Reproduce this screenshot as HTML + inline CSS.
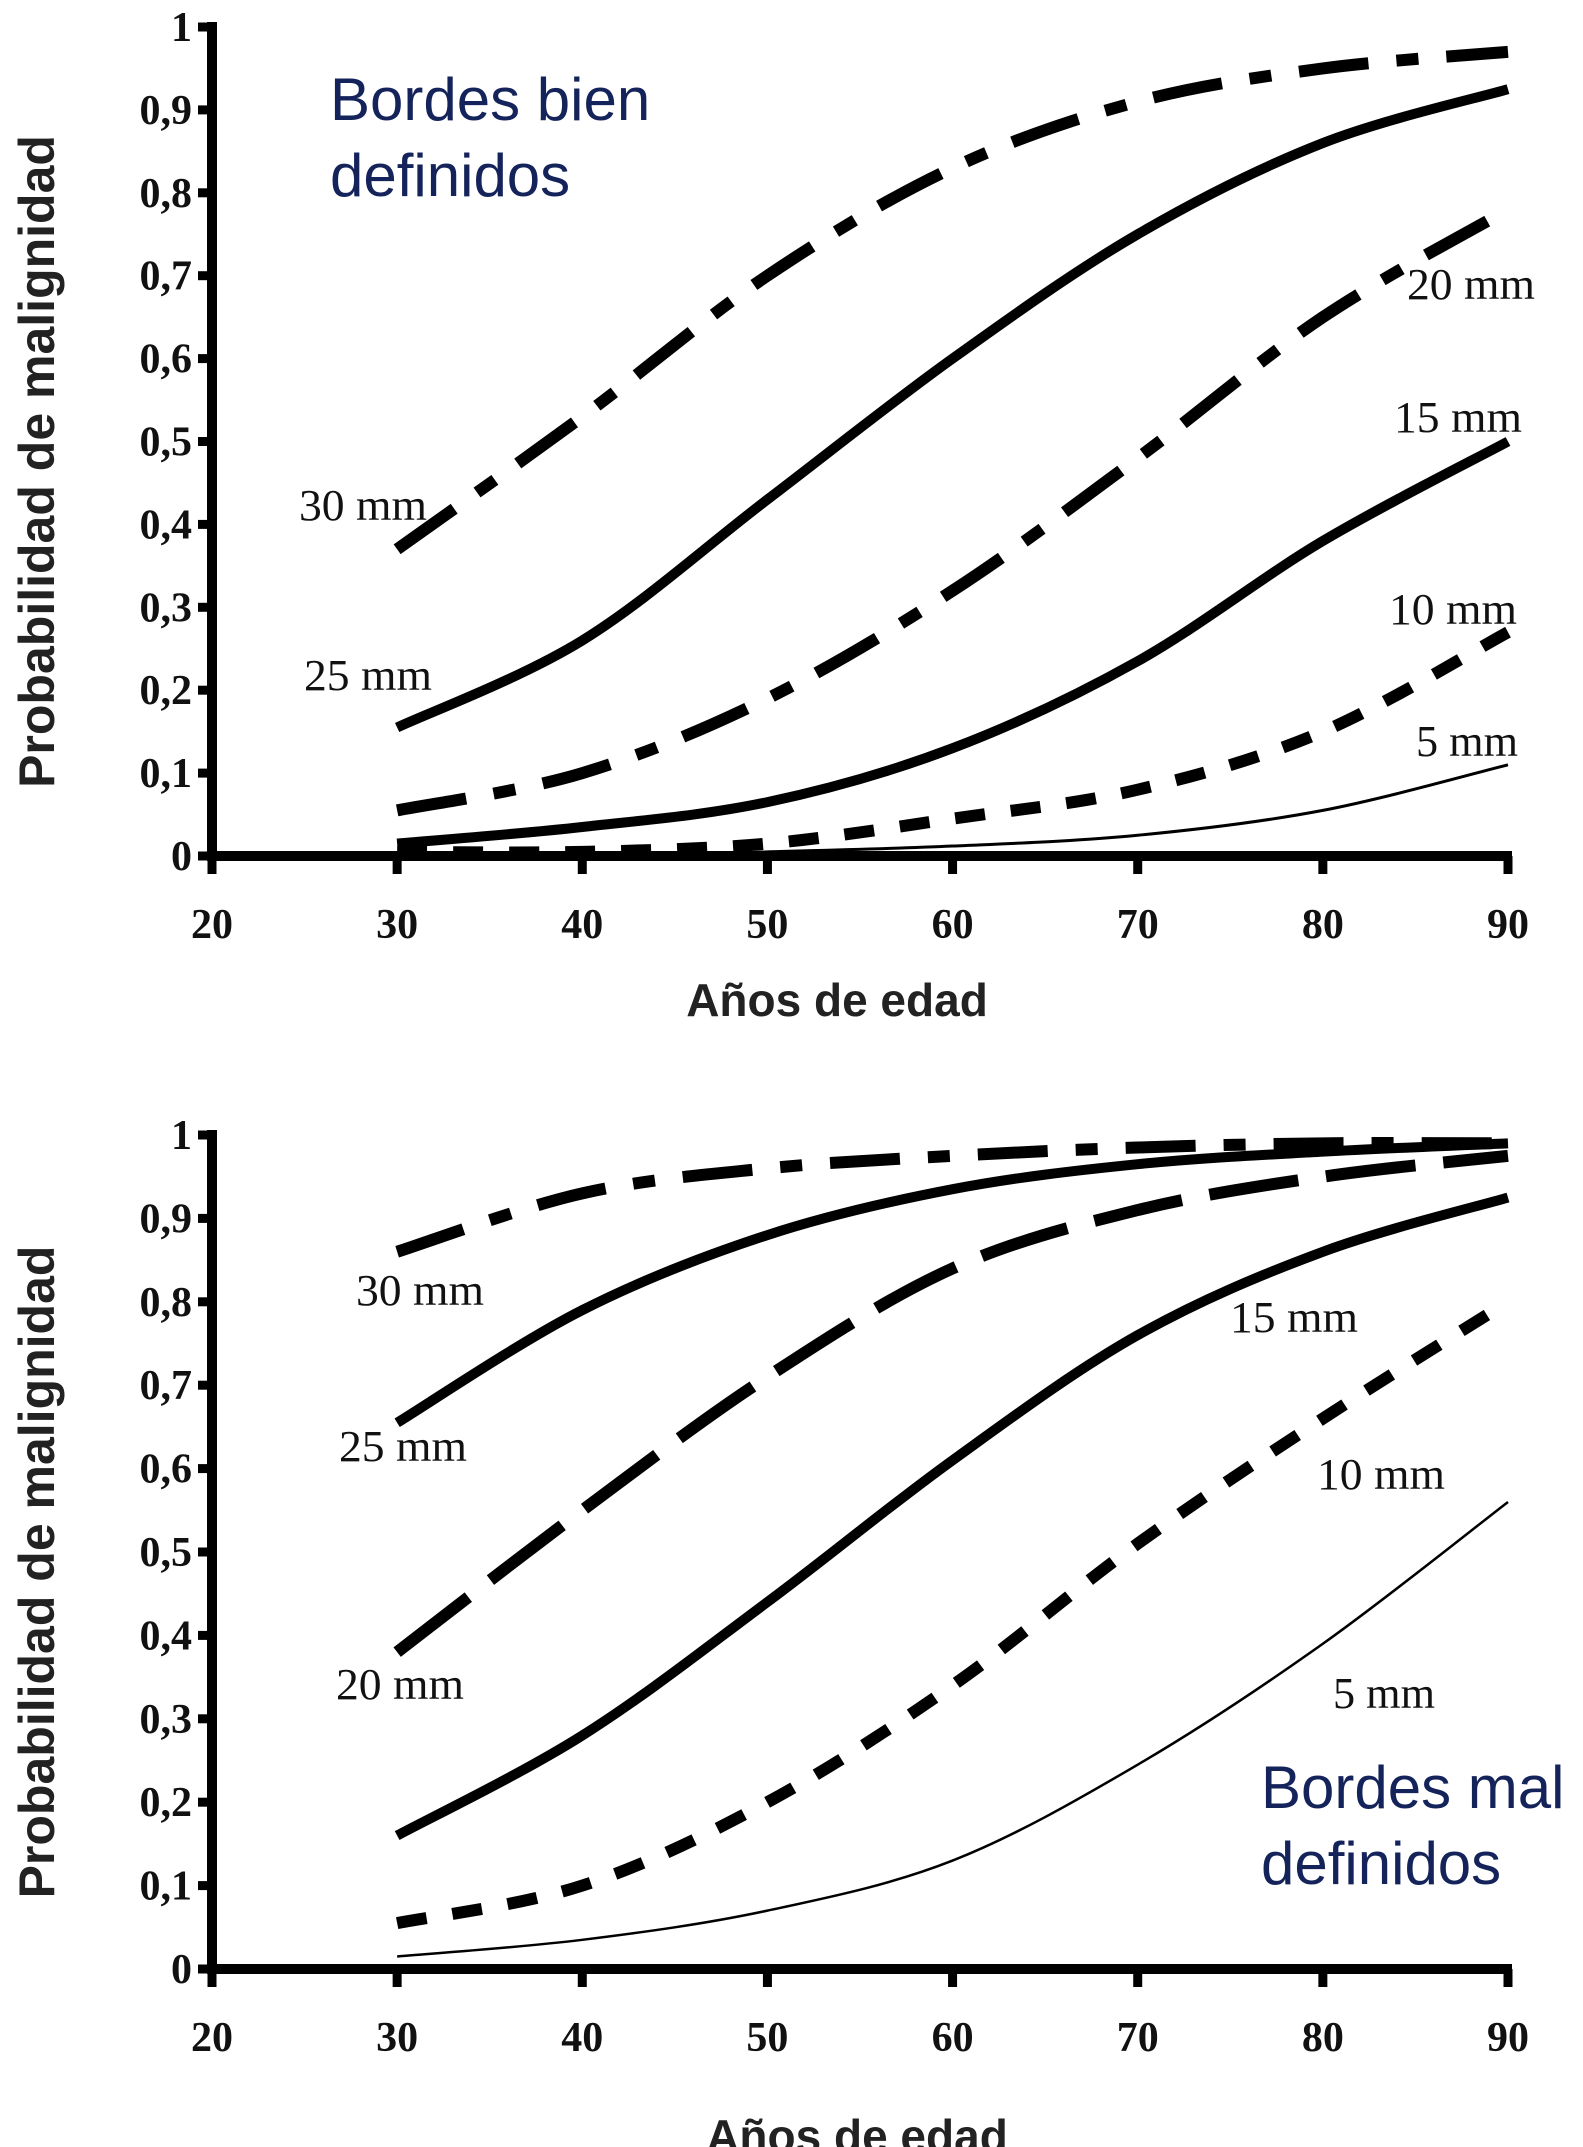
<!DOCTYPE html>
<html><head><meta charset="utf-8"><style>
html,body{margin:0;padding:0;background:#fff;}
svg{display:block;}
.tk{font-family:"Liberation Serif",serif;font-weight:bold;font-size:42px;fill:#111;}
.lb{font-family:"Liberation Serif",serif;font-size:44px;fill:#111;}
.at{font-family:"Liberation Sans",sans-serif;font-weight:bold;font-size:50px;fill:#222;}
.xt{font-family:"Liberation Sans",sans-serif;font-weight:bold;font-size:46px;fill:#222;}
.tt{font-family:"Liberation Sans",sans-serif;font-size:60px;fill:#14235a;}
</style></head><body>
<svg id="svg" width="1583" height="2147" viewBox="0 0 1583 2147"></svg>
<script>
const ages = [30,40,50,60,70,80,90];
const xTicks = [20,30,40,50,60,70,80,90];
const yTicks = ["0","0,1","0,2","0,3","0,4","0,5","0,6","0,7","0,8","0,9","1"];
const sizeLabels = ["30 mm","25 mm","20 mm","15 mm","10 mm","5 mm"];
const top30 = [0.37,0.53,0.70,0.83,0.91,0.95,0.97];
const top25 = [0.155,0.26,0.43,0.60,0.75,0.86,0.925];
const top20 = [0.055,0.10,0.19,0.32,0.48,0.65,0.78];
const top15 = [0.015,0.035,0.065,0.13,0.235,0.38,0.50];
const top10 = [0.005,0.005,0.015,0.045,0.08,0.15,0.27];
const top05 = [0.0,0.0,0.005,0.012,0.025,0.055,0.11];
const bot30 = [0.86,0.93,0.96,0.975,0.985,0.99,0.99];
const bot25 = [0.655,0.79,0.88,0.935,0.965,0.98,0.99];
const bot20 = [0.38,0.55,0.71,0.84,0.91,0.95,0.975];
const bot15 = [0.16,0.28,0.44,0.61,0.76,0.86,0.925];
const bot10 = [0.055,0.10,0.20,0.34,0.51,0.66,0.80];
const bot05 = [0.015,0.035,0.07,0.13,0.245,0.39,0.56];

const NS="http://www.w3.org/2000/svg";
const svg=document.getElementById('svg');
function el(tag,attrs,parent){const e=document.createElementNS(NS,tag);for(const k in attrs)e.setAttribute(k,attrs[k]);(parent||svg).appendChild(e);return e;}

function drawChart(cfg){
  const g=el('g',{});
  
  
  const xs=v=>212+(v-20)*(1508-212)/70;
  const ys=p=>cfg.y0-p*(cfg.y0-cfg.y1);
  cfg.series.forEach((s,i)=>{
    const pts=ages.map((a,j)=>[xs(a),ys(s.vals[j])]);
    let d='M'+pts[0][0]+','+pts[0][1];
    for(let j=0;j<pts.length-1;j++){
      const p0=pts[j-1]||pts[j],p1=pts[j],p2=pts[j+1],p3=pts[j+2]||p2;
      const c1x=p1[0]+(p2[0]-p0[0])/6,c1y=p1[1]+(p2[1]-p0[1])/6;
      const c2x=p2[0]-(p3[0]-p1[0])/6,c2y=p2[1]-(p3[1]-p1[1])/6;
      d+=' C'+c1x+','+c1y+' '+c2x+','+c2y+' '+p2[0]+','+p2[1];
    }
    const p=el('path',{d:d,fill:'none',stroke:'#000','stroke-width':s.w,'stroke-dasharray':s.dash||'none'},g);
    
    
    const t=el('text',{x:s.lx,y:s.ly,'class':'lb','text-anchor':'middle',textLength:128,lengthAdjust:'spacingAndGlyphs'},g);
    if(sizeLabels[i].length<5) t.setAttribute('textLength',102);
    t.textContent=sizeLabels[i];
    
    
  });
  const ax=el('line',{x1:212,y1:cfg.y0,x2:1512,y2:cfg.y0,stroke:'#000','stroke-width':10},g);
  
  
  const ay=el('line',{x1:212,y1:cfg.y0+5,x2:212,y2:cfg.y1-5,stroke:'#000','stroke-width':10},g);
  
  
  xTicks.forEach(v=>{
    el('line',{x1:xs(v),y1:cfg.y0,x2:xs(v),y2:cfg.y0+18,stroke:'#000','stroke-width':9},g);
    const t=el('text',{x:xs(v),y:cfg.y0+82,'class':'tk','text-anchor':'middle'},g);
    t.textContent=v;
    
    
  });
  yTicks.forEach((lab,i)=>{
    const y=ys(i/10);
    el('line',{x1:198,y1:y,x2:212,y2:y,stroke:'#000','stroke-width':9},g);
    const t=el('text',{x:192,y:y+14,'class':'tk','text-anchor':'end'},g);
    t.textContent=lab;
    
    
  });
  const yt=el('text',{x:0,y:0,'class':'at','text-anchor':'middle',transform:'translate(54,'+((cfg.y0+cfg.y1)/2+20)+') rotate(-90)'},g);
  yt.textContent='Probabilidad de malignidad';
  
  
  const xt=el('text',{x:cfg.xtx,y:cfg.xty,'class':'xt','text-anchor':'middle'},g);
  xt.textContent='Años de edad';
  
  
  cfg.title.forEach((line,i)=>{
    const t=el('text',{x:cfg.tx,y:cfg.ty+i*76,'class':'tt'},g);
    t.textContent=line;
    
    
  });
}
const dd='70 28 22 28', sd='30 26', ld='90 28';
drawChart({name:'chart-bordes-bien-definidos',y0:856,y1:27,xtx:837,xty:1016,tx:330,ty:120,title:['Bordes bien','definidos'],
  series:[
    {vals:top30,w:12,dash:dd,lx:363,ly:520},
    {vals:top25,w:10,lx:368,ly:690},
    {vals:top20,w:12,dash:dd,lx:1471,ly:299},
    {vals:top15,w:10,lx:1458,ly:432},
    {vals:top10,w:12,dash:sd,lx:1453,ly:624},
    {vals:top05,w:3,lx:1467,ly:756}
  ]});
drawChart({name:'chart-bordes-mal-definidos',y0:1969,y1:1135,xtx:857,xty:2152,tx:1261,ty:1808,title:['Bordes mal','definidos'],
  series:[
    {vals:bot30,w:12,dash:dd,lx:420,ly:1305},
    {vals:bot25,w:10,lx:403,ly:1461},
    {vals:bot20,w:12,dash:ld,lx:400,ly:1699},
    {vals:bot15,w:10,lx:1294,ly:1332},
    {vals:bot10,w:12,dash:sd,lx:1381,ly:1489},
    {vals:bot05,w:2.5,lx:1384,ly:1708}
  ]});
</script>
</body></html>
